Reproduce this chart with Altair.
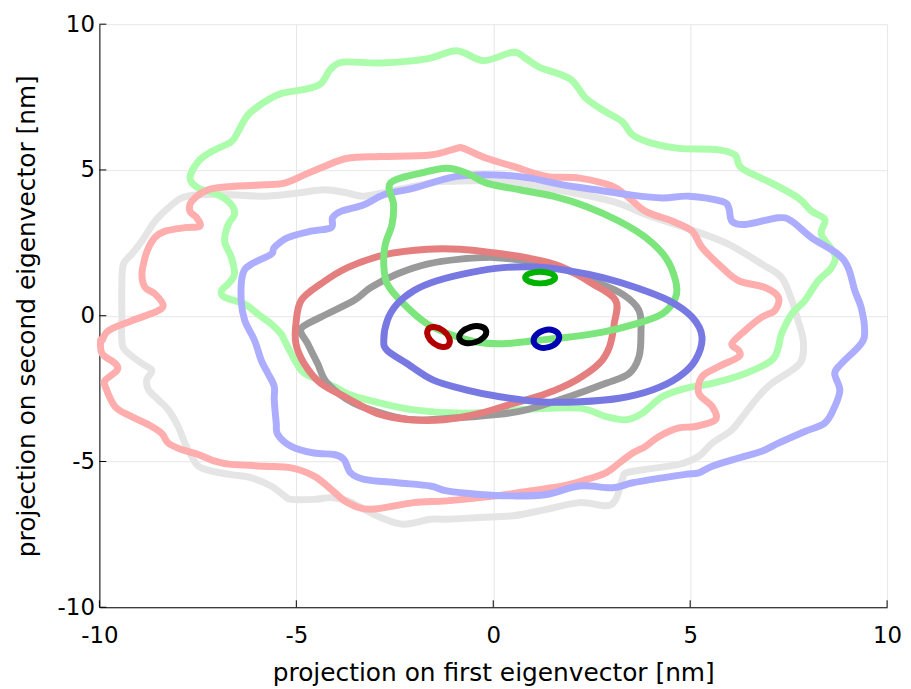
import altair as alt
import pandas as pd

# ---------------- data ----------------
TICKS = [-10, -5, 0, 5, 10]

OUTER_GRAY = [(-9.43,-0.05),(-9.43,1.09),(-9.39,1.77),(-9.18,2.11),(-8.92,2.56),(-8.59,3.24),(-8.25,3.70),
    (-7.91,4.04),(-7.49,4.15),(-6.65,4.15),(-5.81,4.10),(-4.97,4.21),(-4.29,4.32),(-3.70,4.21),(-3.28,4.10),
    (-2.44,4.32),(-1.60,4.55),(-1.18,4.61),(0.00,4.61),(1.35,4.38),(3.03,3.92),(3.87,3.47),(5.13,2.90),
    (5.98,2.45),(6.82,1.77),(7.32,1.31),(7.58,0.52),(7.74,-0.17),(7.87,-0.85),(7.83,-1.53),(7.58,-1.87),
    (7.07,-2.32),(6.73,-2.78),(6.40,-3.34),(6.06,-3.91),(5.56,-4.37),(5.22,-4.82),(4.71,-5.10),(3.87,-5.27),
    (3.37,-5.39),(3.28,-5.61),(3.11,-6.30),(2.86,-6.52),(2.19,-6.41),(1.35,-6.64),(0.51,-6.86),(-0.34,-6.92),
    (-1.18,-6.98),(-1.60,-6.98),(-2.27,-7.15),(-2.86,-6.92),(-3.28,-6.64),(-3.70,-6.35),(-4.12,-6.24),
    (-4.55,-6.30),(-5.13,-6.30),(-5.30,-6.18),(-5.64,-5.84),(-6.14,-5.56),(-6.65,-5.45),(-7.15,-5.33),
    (-7.49,-5.16),(-7.66,-4.82),(-7.83,-4.37),(-8.00,-3.80),(-8.25,-3.23),(-8.50,-2.89),(-8.75,-2.55),
    (-8.80,-2.21),(-8.67,-1.87),(-8.92,-1.64),(-9.34,-1.19),(-9.43,-0.85)]

OUTER_GREEN = [(-7.70,4.72),(-7.49,5.29),(-7.15,5.63),(-6.65,5.97),(-6.48,6.31),(-6.23,6.88),(-5.81,7.33),
    (-5.39,7.62),(-4.80,7.76),(-4.38,7.96),(-4.12,8.47),(-3.79,8.70),(-2.86,8.67),(-1.68,8.81),(-0.93,9.09),
    (-0.25,8.75),(0.51,9.04),(0.84,8.81),(1.18,8.52),(1.94,8.13),(2.36,7.45),(2.86,6.99),(3.28,6.65),
    (3.54,6.20),(4.04,5.91),(4.71,5.74),(5.72,5.69),(6.14,5.51),(6.31,5.06),(7.07,4.55),(7.74,4.04),
    (8.08,3.59),(8.42,3.30),(8.33,2.79),(8.67,2.11),(8.59,1.65),(8.25,1.20),(7.91,0.52),(7.58,0.06),
    (7.32,-0.62),(7.24,-1.07),(7.07,-1.53),(6.40,-1.98),(5.56,-2.32),(4.88,-2.49),(4.29,-2.78),(3.79,-3.34),
    (3.37,-3.57),(2.86,-3.46),(2.19,-3.17),(1.00,-3.20),(0.00,-3.30),(-0.93,-3.34),(-2.02,-3.23),
    (-2.86,-3.00),(-3.62,-2.72),(-4.04,-2.43),(-4.63,-2.09),(-4.88,-1.87),(-5.13,-1.30),(-5.30,-0.85),
    (-5.39,-0.62),(-5.64,-0.28),(-5.98,0.06),(-6.31,0.40),(-6.82,0.63),(-6.90,0.86),(-6.73,1.09),
    (-6.57,1.43),(-6.65,2.00),(-6.82,2.56),(-6.73,3.13),(-6.57,3.47),(-6.65,3.81),(-6.99,4.15),(-7.49,4.38)]

OUTER_RED = [(-9.93,-0.84),(-9.76,-0.50),(-9.18,-0.17),(-8.59,0.12),(-8.38,0.35),(-8.59,0.75),(-8.84,0.97),
    (-8.92,1.43),(-8.84,2.00),(-8.75,2.34),(-8.59,2.68),(-8.33,2.90),(-7.83,3.02),(-7.45,3.07),(-7.53,3.36),
    (-7.70,3.58),(-7.66,3.92),(-7.24,4.32),(-6.65,4.43),(-5.81,4.49),(-5.30,4.55),(-4.80,4.83),(-4.29,5.12),
    (-3.70,5.40),(-2.86,5.46),(-1.60,5.51),(-0.93,5.74),(-0.76,5.74),(-0.17,5.40),(0.51,5.12),(1.35,4.78),
    (2.19,4.72),(3.03,4.44),(3.45,4.04),(3.87,3.58),(4.55,3.24),(5.05,2.90),(5.30,2.34),(5.81,1.65),
    (6.23,1.20),(6.90,0.97),(7.24,0.63),(7.15,0.18),(6.82,-0.05),(6.40,-0.50),(6.06,-0.96),(6.23,-1.19),
    (6.23,-1.41),(5.72,-1.75),(5.30,-2.09),(5.22,-2.66),(5.56,-3.12),(5.64,-3.57),(5.13,-3.80),(4.71,-3.85),
    (4.21,-4.14),(3.87,-4.48),(3.54,-4.71),(3.20,-5.05),(2.86,-5.39),(2.36,-5.62),(1.77,-5.84),(0.93,-6.01),
    (0.08,-6.18),(-1.18,-6.35),(-2.02,-6.41),(-3.11,-6.64),(-3.70,-6.41),(-4.12,-5.95),(-4.55,-5.50),
    (-5.13,-5.22),(-5.81,-5.16),(-6.65,-5.10),(-7.07,-4.99),(-7.49,-4.76),(-7.91,-4.59),(-8.25,-4.37),
    (-8.42,-4.03),(-8.75,-3.74),(-9.18,-3.46),(-9.60,-3.12),(-9.85,-2.43),(-9.85,-2.21),(-9.55,-1.87),
    (-9.60,-1.64),(-9.93,-1.30),(-9.97,-0.85)]

OUTER_BLUE = [(-6.31,-0.16),(-6.40,0.52),(-6.36,1.43),(-6.14,1.77),(-5.64,2.11),(-5.56,2.34),(-5.22,2.68),
    (-4.63,2.90),(-4.12,3.02),(-4.08,3.36),(-3.87,3.58),(-3.28,3.81),(-2.78,4.15),(-2.02,4.38),(-0.93,4.78),
    (0.08,4.83),(0.93,4.72),(1.77,4.49),(2.61,4.32),(3.45,4.15),(4.29,4.04),(4.97,4.10),(5.81,3.92),
    (5.98,3.70),(6.06,3.24),(6.40,3.13),(7.24,3.36),(7.58,3.24),(8.08,2.68),(8.75,2.11),(9.01,1.65),
    (9.18,0.86),(9.34,0.29),(9.43,-0.50),(9.34,-0.96),(8.84,-1.64),(8.67,-1.98),(8.80,-2.55),(8.67,-3.12),
    (8.42,-3.68),(7.91,-3.97),(7.24,-4.37),(6.82,-4.65),(6.23,-4.88),(5.56,-5.16),(5.22,-5.39),(4.88,-5.44),
    (4.29,-5.56),(3.54,-5.73),(3.03,-5.90),(2.19,-5.84),(1.35,-6.13),(0.51,-6.18),(-0.34,-6.13),
    (-1.18,-6.01),(-1.60,-5.84),(-2.44,-5.73),(-3.28,-5.61),(-3.62,-5.39),(-3.79,-4.93),(-4.04,-4.76),
    (-4.55,-4.71),(-5.13,-4.48),(-5.47,-4.08),(-5.51,-3.68),(-5.56,-2.89),(-5.56,-2.43),(-5.72,-1.98),
    (-5.89,-1.53),(-6.06,-0.85)]

MID_GRAY = [(-4.88,-0.45),(-4.38,-0.05),(-3.54,0.52),(-3.11,0.97),(-2.44,1.43),(-1.68,1.77),(-0.84,1.94),
    (0.00,2.00),(0.84,1.88),(1.68,1.65),(2.53,1.20),(3.28,0.74),(3.70,0.18),(3.75,-0.62),(3.70,-1.41),
    (3.45,-1.98),(2.86,-2.32),(1.94,-2.77),(0.84,-3.23),(0.00,-3.40),(-1.01,-3.51),(-2.02,-3.57),
    (-2.69,-3.40),(-3.54,-3.00),(-4.21,-2.32),(-4.46,-1.64),(-4.71,-0.96)]

MID_RED = [(-5.01,-0.28),(-4.88,0.52),(-4.38,1.09),(-3.70,1.65),(-2.69,2.11),(-1.68,2.28),(-0.84,2.28),
    (0.00,2.16),(0.84,1.99),(1.68,1.71),(2.53,1.09),(3.11,0.52),(3.07,-0.28),(2.95,-1.07),(2.69,-1.64),
    (2.10,-2.21),(1.35,-2.67),(0.51,-3.01),(-0.34,-3.35),(-1.26,-3.57),(-2.10,-3.57),(-2.95,-3.35),
    (-3.70,-2.83),(-4.38,-2.32),(-4.80,-1.64),(-5.01,-0.96)]

MID_GREEN = [(-2.61,4.55),(-1.85,4.89),(-1.18,5.06),(-0.67,4.89),(-0.17,4.55),(0.67,4.32),(1.52,4.10),
    (2.36,3.75),(3.20,3.24),(3.87,2.68),(4.38,1.99),(4.63,1.20),(4.63,0.63),(4.29,0.06),(3.62,-0.28),
    (2.78,-0.56),(1.94,-0.73),(1.09,-0.85),(0.25,-0.96),(-0.42,-0.90),(-1.01,-0.68),(-1.68,-0.28),
    (-2.27,0.40),(-2.69,1.09),(-2.78,1.77),(-2.74,2.45),(-2.57,3.13),(-2.53,3.81)]

MID_BLUE = [(-2.78,-0.85),(-2.69,-0.16),(-2.44,0.40),(-2.02,0.86),(-1.43,1.20),(-0.59,1.48),(0.25,1.65),
    (1.09,1.67),(1.94,1.54),(2.78,1.31),(3.62,0.97),(4.46,0.52),(5.05,-0.05),(5.30,-0.73),(5.13,-1.53),
    (4.71,-2.10),(4.04,-2.55),(3.20,-2.83),(2.19,-2.95),(1.18,-2.95),(0.17,-2.78),(-0.67,-2.55),
    (-1.52,-2.21),(-2.19,-1.64),(-2.69,-1.19)]

CORE_RED = [(-1.13,-1.00),(-1.29,-1.07),(-1.51,-0.95),(-1.66,-0.70),(-1.65,-0.46),(-1.49,-0.39),
    (-1.27,-0.51),(-1.12,-0.76)]
CORE_BLACK = [(-0.18,-0.52),(-0.24,-0.74),(-0.46,-0.91),(-0.72,-0.93),(-0.86,-0.78),(-0.80,-0.56),
    (-0.58,-0.39),(-0.32,-0.37)]
CORE_BLUE = [(1.67,-0.67),(1.62,-0.91),(1.41,-1.08),(1.17,-1.08),(1.03,-0.91),(1.08,-0.67),
    (1.29,-0.50),(1.53,-0.50)]
CORE_GREEN = [(1.57,1.31),(1.46,1.17),(1.19,1.11),(0.92,1.17),(0.81,1.31),(0.92,1.45),(1.19,1.51),
    (1.46,1.45)]

# (points, colour, width) in drawing order
CONTOURS = [
    (OUTER_GRAY, "#e5e5e5", 7),
    (OUTER_GREEN, "#abfcab", 7),
    (OUTER_RED, "#ffadad", 7),
    (OUTER_BLUE, "#adadff", 7),
    (MID_GRAY, "#9a9a9a", 7),
    (MID_RED, "#e57e7e", 7),
    (MID_GREEN, "#7ce57c", 7),
    (MID_BLUE, "#7878e3", 7),
    (CORE_RED, "#b20000", 6),
    (CORE_BLACK, "#000000", 6),
    (CORE_BLUE, "#0000b2", 6),
    (CORE_GREEN, "#00b200", 6),
]

FONT = "DejaVu Sans"
W, H = 793, 587

SCALE = alt.Scale(domain=[-10, 10], nice=False, zero=False)
X_AXIS = alt.Axis(values=TICKS, title="projection on first eigenvector [nm]",
                  grid=True, gridColor="#e6e6e6", domainColor="black", tickSize=0,
                  labelFont=FONT, labelFontSize=23, labelColor="black", labelPadding=17,
                  labelExpr="datum.value", labelFlush=False,
                  titleFont=FONT, titleFontSize=25, titleFontWeight="normal",
                  titleColor="black", titlePadding=14)
Y_AXIS = alt.Axis(values=TICKS, title="projection on second eigenvector [nm]",
                  grid=True, gridColor="#e6e6e6", domainColor="black", tickSize=0,
                  labelFont=FONT, labelFontSize=23, labelColor="black", labelPadding=5,
                  labelExpr="datum.value", labelFlush=False,
                  titleFont=FONT, titleFontSize=25, titleFontWeight="normal",
                  titleColor="black", titlePadding=18)

layers = []
for pts, color, width in CONTOURS:
    df = pd.DataFrame({"x": [p[0] for p in pts], "y": [p[1] for p in pts],
                       "i": list(range(len(pts)))})
    layers.append(
        alt.Chart(df).mark_line(color=color, strokeWidth=width, interpolate="cardinal-closed",
                                strokeJoin="round", strokeCap="round")
        .encode(x=alt.X("x:Q", scale=SCALE, axis=X_AXIS),
                y=alt.Y("y:Q", scale=SCALE, axis=Y_AXIS),
                order="i:Q")
    )

tick_df = pd.DataFrame({"t": TICKS})
xticks = alt.Chart(tick_df).mark_rule(color="black", strokeWidth=1).encode(
    x=alt.X("t:Q", scale=SCALE, axis=X_AXIS),
    y=alt.value(H), y2=alt.value(H - 7))
yticks = alt.Chart(tick_df).mark_rule(color="black", strokeWidth=1).encode(
    y=alt.Y("t:Q", scale=SCALE, axis=Y_AXIS),
    x=alt.value(0), x2=alt.value(7))

chart = alt.layer(*layers, xticks, yticks).properties(
    width=W, height=H,
    autosize=alt.AutoSizeParams(type="none"),
    padding={"left": 92, "top": 14, "right": 16, "bottom": 80},
    background="white",
).configure_view(stroke=None)

chart.save("out.html", embed_options={"renderer": "svg", "actions": False})
